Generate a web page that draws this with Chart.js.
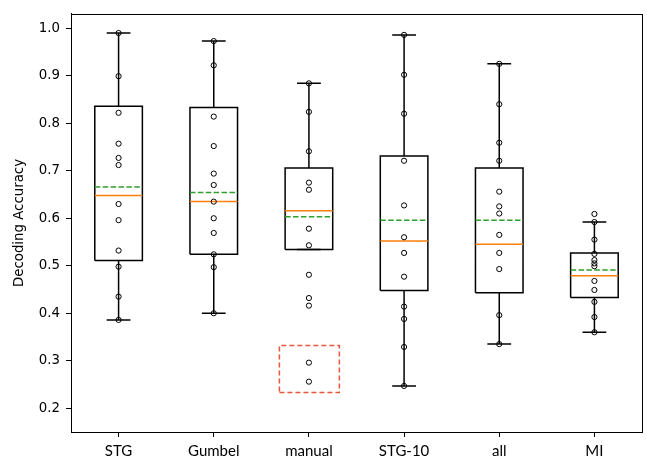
<!DOCTYPE html>
<html>
<head>
<meta charset="utf-8">
<script src="https://cdn.jsdelivr.net/npm/chart.js@4/dist/chart.umd.min.js"></script>
<style>
  html, body { margin: 0; padding: 0; background: #fff; }
  #wrap { width: 647px; height: 463px; }
</style>
</head>
<body>
<div id="wrap"><canvas id="chart" width="647" height="463"></canvas></div>
<script>
// ── Data ─────────────────────────────────────────────────────
const categories  = ['STG', 'Gumbel', 'manual', 'STG-10', 'all', 'MI'];
const whiskerLow  = [0.386, 0.400, 0.534, 0.247, 0.335, 0.360];
const quartile1   = [0.511, 0.524, 0.534, 0.448, 0.443, 0.433];
const medians     = [0.648, 0.635, 0.616, 0.552, 0.545, 0.479];
const means       = [0.666, 0.654, 0.603, 0.596, 0.596, 0.491];
const quartile3   = [0.836, 0.833, 0.706, 0.731, 0.706, 0.527];
const whiskerHigh = [0.990, 0.973, 0.884, 0.986, 0.925, 0.592];

const stgPoints    = [0.990, 0.899, 0.822, 0.757, 0.727, 0.712, 0.630, 0.596, 0.532, 0.498, 0.435, 0.386];
const gumbelPoints = [0.973, 0.922, 0.814, 0.752, 0.694, 0.670, 0.635, 0.600, 0.569, 0.524, 0.497, 0.400];
const manualPoints = [0.884, 0.824, 0.741, 0.675, 0.660, 0.578, 0.543, 0.481, 0.432, 0.416, 0.296, 0.256];
const stg10Points  = [0.986, 0.902, 0.820, 0.721, 0.627, 0.560, 0.527, 0.477, 0.414, 0.388, 0.329, 0.247];
const allPoints    = [0.925, 0.840, 0.759, 0.721, 0.656, 0.625, 0.610, 0.565, 0.527, 0.493, 0.396, 0.335];
const miPoints     = [0.609, 0.592, 0.555, 0.525, 0.512, 0.505, 0.499, 0.468, 0.449, 0.424, 0.392, 0.360];
const groupPoints  = [stgPoints, gumbelPoints, manualPoints, stg10Points, allPoints, miPoints];

const yTicks = [0.2, 0.3, 0.4, 0.5, 0.6, 0.7, 0.8, 0.9, 1.0];
// highlighted region around the two lowest "manual" values: [xFrom, xTo, yFrom, yTo]
const highlightRegion = [2.69, 3.32, 0.233, 0.332];

// ── Build line segments (null breaks the line) ───────────────
const BOX_W = 0.5, CAP_W = 0.25;
const GAP = { x: NaN, y: null };

const boxSegs = [], whiskerSegs = [], capSegs = [], medianSegs = [], meanSegs = [], scatter = [];
categories.forEach((_, i) => {
    const x = i + 1, l = x - BOX_W / 2, r = x + BOX_W / 2;
    boxSegs.push({ x: l, y: quartile1[i] }, { x: r, y: quartile1[i] }, { x: r, y: quartile3[i] },
                 { x: l, y: quartile3[i] }, { x: l, y: quartile1[i] }, GAP);
    whiskerSegs.push({ x, y: quartile3[i] }, { x, y: whiskerHigh[i] }, GAP,
                     { x, y: quartile1[i] }, { x, y: whiskerLow[i] }, GAP);
    capSegs.push({ x: x - CAP_W / 2, y: whiskerHigh[i] }, { x: x + CAP_W / 2, y: whiskerHigh[i] }, GAP,
                 { x: x - CAP_W / 2, y: whiskerLow[i] }, { x: x + CAP_W / 2, y: whiskerLow[i] }, GAP);
    medianSegs.push({ x: l, y: medians[i] }, { x: r, y: medians[i] }, GAP);
    meanSegs.push({ x: l, y: means[i] }, { x: r, y: means[i] }, GAP);
    groupPoints[i].forEach(v => scatter.push({ x, y: v }));
});

const [hx0, hx1, hy0, hy1] = highlightRegion;
const highlightSegs = [{ x: hx0, y: hy0 }, { x: hx1, y: hy0 }, { x: hx1, y: hy1 }, { x: hx0, y: hy1 }, { x: hx0, y: hy0 }];

const segLine = (data, color, extra = {}) => Object.assign({
    data, showLine: true, spanGaps: false, borderColor: color, borderWidth: 1.5,
    pointRadius: 0, fill: false
}, extra);

// ── Frame around the plot area ───────────────────────────────
const framePlugin = {
    id: 'frame',
    afterDraw(chart) {
        const { ctx, chartArea: a } = chart;
        ctx.save();
        ctx.strokeStyle = '#000';
        ctx.lineWidth = 1;
        ctx.strokeRect(Math.round(a.left) + 0.5, Math.round(a.top) + 0.5,
                       Math.round(a.right - a.left), Math.round(a.bottom - a.top));
        ctx.restore();
    }
};

const dejavu = "'DejaVu Sans', sans-serif";

new Chart(document.getElementById('chart'), {
    type: 'scatter',
    data: {
        datasets: [
            { data: scatter, pointStyle: 'circle', pointRadius: 2.6, pointBorderWidth: 1,
              pointBorderColor: '#000', pointBackgroundColor: 'rgba(0,0,0,0)', showLine: false },
            segLine(highlightSegs, '#e8553e', { borderDash: [5, 3], borderWidth: 1.5 }),
            segLine(meanSegs, '#2ca02c', { borderDash: [5.5, 2.4] }),
            segLine(medianSegs, '#ff7f0e'),
            segLine(capSegs, '#000'),
            segLine(whiskerSegs, '#000'),
            segLine(boxSegs, '#000')
        ]
    },
    options: {
        responsive: false,
        animation: false,
        layout: { padding: { top: 5, right: 5, left: 0, bottom: 0 } },
        plugins: { legend: { display: false }, tooltip: { enabled: false } },
        scales: {
            x: {
                type: 'linear', min: 0.5, max: 6.5,
                afterBuildTicks: s => { s.ticks = categories.map((_, i) => ({ value: i + 1 })); },
                afterFit: s => { s.height = 31; },
                grid: { drawOnChartArea: false, tickLength: 5, color: '#000' },
                border: { display: true, color: '#000', width: 1 },
                ticks: {
                    color: '#000', padding: 5, maxRotation: 0, autoSkip: false,
                    font: { family: "'Lato', sans-serif", size: 15 },
                    callback: v => categories[Math.round(v) - 1]
                }
            },
            y: {
                type: 'linear', min: 0.15, max: 1.03,
                afterBuildTicks: s => { s.ticks = yTicks.map(v => ({ value: v })); },
                afterFit: s => { s.width = 71; },
                grid: { drawOnChartArea: false, tickLength: 5, color: '#000' },
                border: { display: true, color: '#000', width: 1 },
                ticks: {
                    color: '#000', padding: 6,
                    font: { family: dejavu, size: 13.33 },
                    callback: v => v.toFixed(1)
                },
                title: {
                    display: true, text: 'Decoding Accuracy', color: '#000',
                    font: { family: dejavu, size: 13.33 },
                    padding: { top: 12, bottom: 0 }
                }
            }
        }
    },
    plugins: [framePlugin]
});
</script>
</body>
</html>
